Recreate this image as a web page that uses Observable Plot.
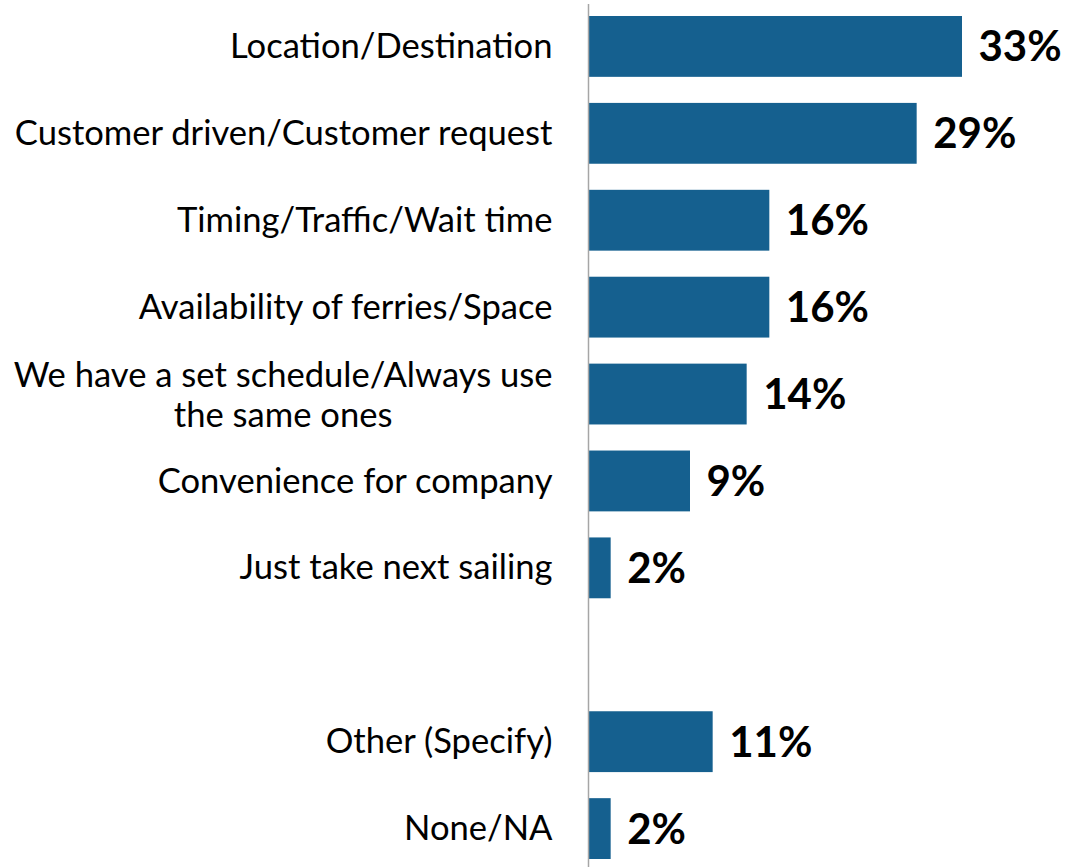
<!DOCTYPE html>
<html><head><meta charset="utf-8">
<script src="https://cdn.jsdelivr.net/npm/d3@7"></script>
<script src="https://cdn.jsdelivr.net/npm/@observablehq/plot@0.6"></script>
<style>html,body{margin:0;padding:0;background:#fff;overflow:hidden}</style>
</head><body><div id="chart"></div>
<script>
// Categories in display order; "" marks the empty gap row
const categories = [
  "Location/Destination",
  "Customer driven/Customer request",
  "Timing/Traffic/Wait time",
  "Availability of ferries/Space",
  "We have a set schedule/Always use\nthe same ones",
  "Convenience for company",
  "Just take next sailing",
  "",
  "Other (Specify)",
  "None/NA"
];
const values = [33, 29, 16, 16, 14, 9, 2, null, 11, 2];
const valueLabels = ["33%", "29%", "16%", "16%", "14%", "9%", "2%", "", "11%", "2%"];

const barColor = "#15608f";
const labelFont = "Lato";
const labelSize = 34.6;
const valueSize = 42;

const rows = categories.map((c, i) => ({key: c === "" ? " " : c, label: c, value: values[i], text: valueLabels[i]}));
const bars = rows.filter(d => d.value != null);
const singleLabels = rows.filter(d => d.label !== "" && !d.label.includes("\n"));
const multiLabels = rows.filter(d => d.label.includes("\n"));

// measure line widths to center wrapped label lines within their block
const ctx = document.createElement("canvas").getContext("2d");
ctx.font = `${labelSize}px ${labelFont}`;
const labelGap = 36;

const marks = [
  Plot.barX(bars, {x: "value", y: "key", fill: barColor}),
  Plot.ruleX([0], {stroke: "#a6a6a6", strokeWidth: 1.5, insetTop: -12, insetBottom: -8}),
  Plot.text(bars, {x: "value", y: "key", text: "text", textAnchor: "start", dx: 16, dy: 1,
    fontSize: valueSize, fontWeight: "bold", fontFamily: labelFont, fill: "#000"}),
  Plot.text(singleLabels, {x: 0, y: "key", text: "label", textAnchor: "end", dx: -labelGap,
    fontSize: labelSize, fontFamily: labelFont, fill: "#000"})
];
multiLabels.forEach(d => {
  const w = Math.max(...d.label.split("\n").map(l => ctx.measureText(l).width));
  marks.push(Plot.text([d], {x: 0, y: "key", text: "label", textAnchor: "middle", dx: -labelGap - w / 2,
    lineHeight: 1.15, fontSize: labelSize, fontFamily: labelFont, fill: "#000"}));
});

const chart = Plot.plot({
  width: 1066,
  height: 867,
  marginLeft: 588,
  marginRight: 2,
  marginTop: 16,
  marginBottom: 8,
  style: {fontFamily: labelFont, background: "#fff"},
  x: {domain: [0, 42], axis: null},
  y: {domain: rows.map(d => d.key), axis: null, paddingInner: 0.3, paddingOuter: 0, round: false},
  marks
});
document.getElementById("chart").appendChild(chart);
</script>
</body></html>
